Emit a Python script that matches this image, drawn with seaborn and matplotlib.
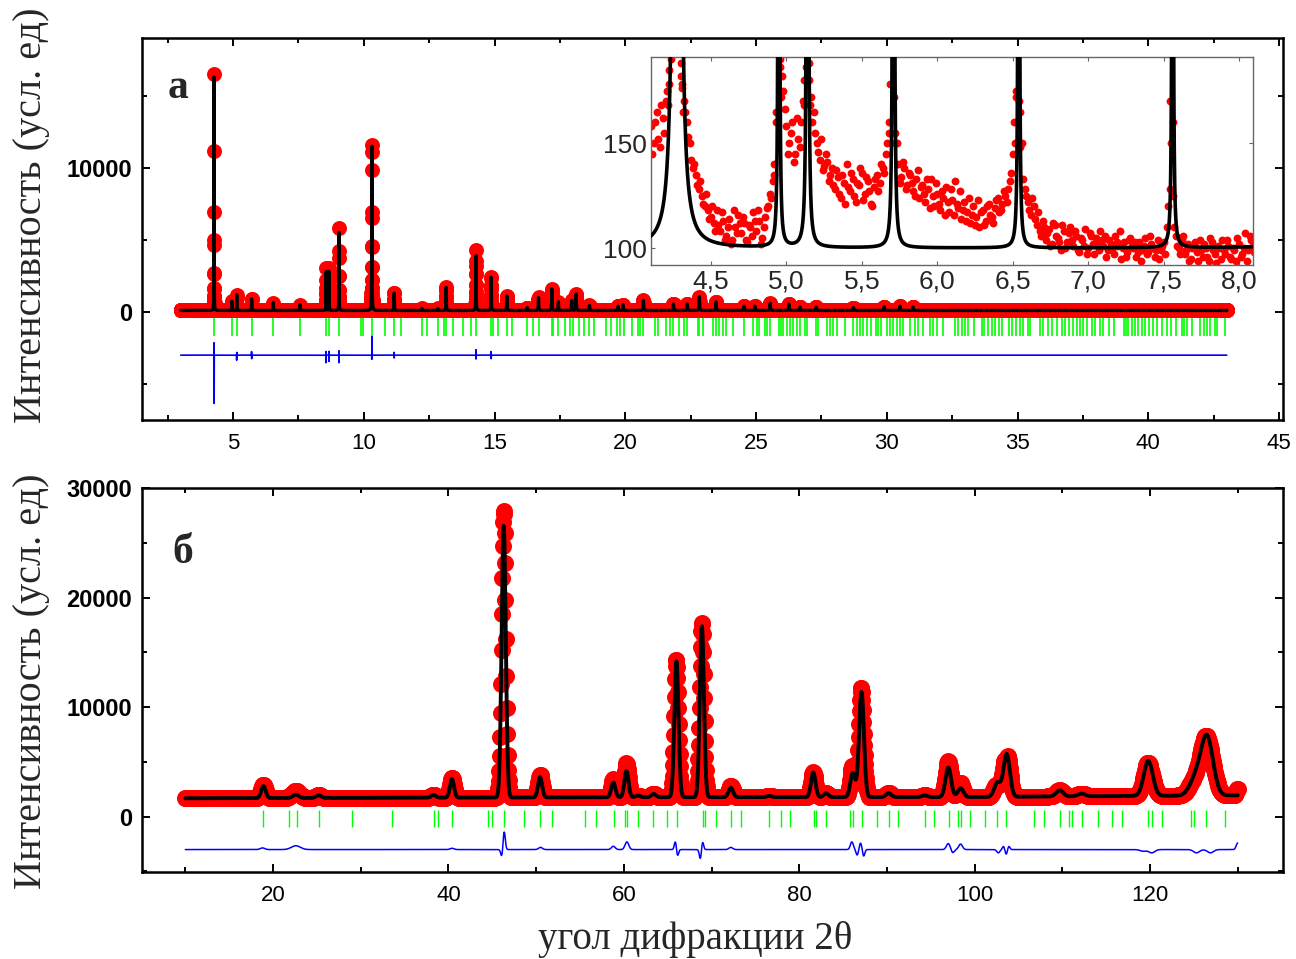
import numpy as np
import pandas as pd
import matplotlib
matplotlib.use("Agg")
import matplotlib.pyplot as plt
from matplotlib.ticker import MultipleLocator, FuncFormatter
import seaborn as sns

# ================= Panel а (top) : peak list =================
top_peak_pos = [4.275, 4.95, 5.14, 5.71, 6.54, 7.56, 8.56, 8.67, 9.05, 10.31,
                11.16, 12.22, 12.83, 13.15, 14.29, 14.87, 15.47, 16.25, 16.68, 17.19,
                17.44, 17.95, 18.12, 18.63, 19.72, 19.91, 20.69, 21.84, 22.37, 22.83,
                23.47, 24.54, 24.95, 25.54, 26.25, 26.68, 27.30, 28.72, 29.90, 30.50, 31.00]
top_peak_height = [16200, 650, 1100, 800, 550, 400, 2700, 2700, 5400, 11400,
                   1200, 150, 150, 1600, 3800, 2300, 1000, 200, 900, 1500,
                   600, 700, 1150, 350, 300, 400, 700, 450, 450, 950,
                   600, 300, 300, 500, 450, 250, 250, 200, 250, 300, 250]
top_peak_fwhm = [0.0065, 0.0065, 0.0065, 0.007, 0.007, 0.008, 0.009, 0.009, 0.009, 0.012,
                 0.012, 0.012, 0.012, 0.013, 0.014, 0.014, 0.015, 0.015, 0.016, 0.016,
                 0.016, 0.017, 0.017, 0.017, 0.018, 0.018, 0.019, 0.019, 0.020, 0.020,
                 0.020, 0.021, 0.021, 0.022, 0.022, 0.022, 0.023, 0.024, 0.025, 0.025, 0.025]
top_background = 100.0
top_range = (3.0, 43.0)
top_step = 0.0025

top_diff_pos = [4.2725, 4.275, 4.2775, 5.1375, 5.1425, 5.7075, 5.7125, 8.5575, 8.56, 8.6675,
                8.67, 9.0475, 9.05, 10.305, 10.3125, 11.1575, 11.1625, 14.2875, 14.29, 14.8675,
                14.8725]
top_diff_amp = [900, 420, -3400, -350, 200, 250, -250, -550, 300, -450,
                300, -550, 350, -300, 1300, 200, -200, -300, 400, 250,
                -250]
top_diff_fwhm = 0.0015
top_diff_offset = -3000

top_reflections = [
    4.27, 4.95, 5.14, 5.71, 6.54, 7.56, 8.56, 8.67, 9.05, 9.88, 9.98, 10.30, 10.81, 11.16,
    11.42, 12.22, 12.43, 12.83, 13.08, 13.15, 13.40, 13.78, 14.10, 14.29, 14.87, 14.95,
    15.15, 15.47, 15.66, 16.25, 16.48, 16.68, 17.19, 17.25, 17.44, 17.70,
    17.89, 18.01, 18.24, 18.42, 18.63, 18.80, 19.26, 19.44, 19.70, 19.80, 19.95, 20.25,
    20.50, 20.56, 20.69, 21.14, 21.26, 21.56, 21.71, 21.84, 22.07, 22.25, 22.37, 22.76,
    22.83, 22.96, 23.37, 23.47, 23.60, 23.75, 23.85, 24.13, 24.54, 24.90, 25.03, 25.13,
    25.34, 25.41, 25.54, 25.89, 25.94, 26.04, 26.20, 26.30, 26.43, 26.58, 26.68, 26.87,
    26.96, 27.29, 27.38, 27.70, 27.83, 27.96, 28.09, 28.40, 28.72, 28.85, 28.98, 29.10,
    29.23, 29.39, 29.59, 29.68, 29.77, 30.00, 30.12, 30.23, 30.38, 30.51, 30.63, 30.89,
    31.08, 31.21, 31.40, 31.65, 31.78, 31.91, 32.16, 32.61, 32.74, 32.86, 32.99, 33.12,
    33.34, 33.63, 33.72, 33.85, 34.01, 34.14, 34.27, 34.39, 34.69, 34.78, 34.94, 35.10,
    35.22, 35.38, 35.48, 35.86, 35.99, 36.18, 36.31, 36.50, 36.69, 36.82, 36.98, 37.13,
    37.26, 37.39, 37.49, 37.64, 37.84, 37.96, 38.15, 38.28, 38.51, 38.69, 39.05, 39.15,
    39.24, 39.37, 39.49, 39.62, 39.75, 39.88, 40.04, 40.17, 40.32, 40.51, 40.70, 40.86,
    41.06, 41.28, 41.37, 41.47, 41.66, 41.98, 42.11, 42.23, 42.36, 42.55, 42.62, 42.93]

# inset: observed points read from the picture
# set A: every 0.02 deg from 4.10 ; set B: every 0.02 deg from 4.11
inset_step = 0.02
inset_start_a = 4.10
inset_obs_a = [
    158, 150, 165, 148, 162, 170, 185, 250, 300, 300,
    182, 170, 160, 150, 138, 135, 128, 125, 120, 118,
    115, 112, 118, 108, 113, 106, 114, 104, 110, 116,
    107, 112, 103, 110, 117, 108, 113, 105, 115, 120,
    124, 135, 200, 190, 175, 158, 150, 160, 145, 152,
    160, 180, 220, 172, 165, 150, 142, 137, 145, 132,
    138, 128, 134, 124, 131, 140, 127, 133, 122, 130,
    136, 126, 132, 121, 129, 135, 131, 138, 145, 160,
    230, 155, 140, 134, 138, 130, 135, 127, 133, 124,
    130, 122, 128, 133, 120, 126, 118, 124, 129, 117,
    123, 132, 119, 114, 122, 117, 112, 120, 115, 110,
    118, 113, 121, 115, 119, 124, 118, 127, 122, 132,
    145, 175, 220, 150, 128, 122, 116, 120, 111, 108,
    113, 104, 109, 102, 111, 105, 99, 108, 103, 110,
    101, 106, 98, 104, 109, 100, 106, 97, 103, 108,
    101, 96, 104, 99, 106, 101, 95, 103, 98, 105,
    100, 96, 103, 99, 105, 98, 102, 96, 104, 99,
    103, 110, 170, 125, 106, 100, 104, 97, 102, 95,
    101, 98, 104, 96, 100, 94, 103, 97, 101, 95,
    99, 104, 96, 100, 94, 102, 97, 107, 99, 104,
    98]
inset_start_b = 4.11
inset_obs_b = [
    145, 160, 152, 168, 155, 175, 195, 300, 300, 195,
    176, 165, 153, 142, 140, 130, 132, 121, 126, 114,
    120, 108, 111, 117, 104, 110, 102, 118, 107, 112,
    115, 104, 111, 106, 113, 118, 102, 110, 119, 126,
    132, 160, 300, 182, 166, 145, 155, 141, 162, 148,
    170, 300, 188, 160, 155, 146, 152, 139, 141, 135,
    130, 137, 126, 135, 121, 129, 136, 125, 131, 138,
    123, 134, 127, 120, 133, 127, 140, 136, 150, 200,
    300, 150, 131, 141, 128, 136, 131, 125, 137, 129,
    126, 133, 119, 125, 131, 121, 127, 116, 122, 128,
    116, 121, 127, 118, 113, 124, 116, 111, 123, 117,
    111, 120, 116, 112, 123, 117, 121, 125, 128, 136,
    160, 300, 165, 133, 125, 118, 124, 114, 117, 106,
    110, 107, 101, 112, 106, 103, 111, 100, 107, 104,
    108, 99, 105, 101, 97, 107, 102, 105, 99, 104,
    106, 99, 102, 97, 103, 108, 100, 96, 104, 101,
    103, 98, 94, 101, 97, 106, 100, 99, 95, 101,
    97, 120, 300, 110, 101, 97, 106, 99, 94, 100,
    103, 94, 99, 102, 96, 105, 99, 93, 100, 104,
    97, 101, 95, 99, 105, 96, 100, 94, 106, 101]
inset_flank_x = [4.215, 4.225, 4.235, 4.300, 4.305, 4.315, 4.920, 4.930, 4.958, 4.965,
                 5.120, 5.128, 5.150, 5.158, 5.680, 5.690, 5.712, 5.720, 6.515, 6.522,
                 6.540, 6.548, 7.540, 7.548, 7.565]
inset_flank_y = [168, 178, 190, 188, 178, 165, 140, 165, 186, 172,
                 168, 186, 180, 168, 155, 178, 172, 150, 150, 172,
                 170, 148, 128, 150, 160]

# ================= Panel б (bottom) =================
bot_peak_pos = [18.9, 22.6, 25.2, 38.3, 40.4, 46.3, 50.45, 58.8, 60.3, 61.6,
                63.4, 66.0, 68.9, 72.2, 76.6, 81.6, 83.05, 86.1, 87.1, 90.2,
                94.3, 97.0, 98.4, 102.6, 103.65, 109.7, 112.2, 119.8, 125.2, 126.5]
bot_peak_height = [1100, 300, 250, 250, 1700, 24800, 1850, 1350, 2400, 150,
                   300, 12400, 15600, 850, 120, 2250, 350, 2200, 9600, 350,
                   150, 2700, 800, 1300, 3900, 550, 250, 3200, 1500, 5300]
bot_peak_fwhm = [0.6, 0.8, 0.7, 0.6, 0.55, 0.55, 0.55, 0.55, 0.55, 0.6,
                 0.6, 0.55, 0.55, 0.6, 0.6, 0.6, 0.6, 0.65, 0.65, 0.7,
                 0.7, 0.75, 0.75, 0.85, 0.85, 0.95, 1.0, 1.2, 1.6, 1.6]
bot_bg_x = [10, 60, 100, 130]
bot_bg_y = [1680, 1780, 1800, 1950]
bot_range = (10.0, 130.0)
bot_step = 0.05

bot_diff_pos = [18.8, 22.6, 40.4, 46.1, 46.35, 50.5, 58.8, 60.35, 65.9, 66.1,
                68.75, 68.95, 72.2, 86.0, 86.6, 87.0, 87.35, 97.0, 97.5, 98.4,
                102.7, 103.3, 103.6, 103.9, 119.2, 120.2, 125.3, 126.9, 130.0]
bot_diff_amp = [150, 350, 120, -700, 1700, 200, 300, 700, 850, -700,
                -1000, 850, 200, 700, -500, 600, -600, 550, -300, 500,
                -300, 300, -450, 300, -150, -300, -300, -300, 600]
bot_diff_fwhm = [0.6, 1.2, 0.5, 0.3, 0.3, 0.5, 0.5, 0.5, 0.3, 0.3,
                 0.3, 0.3, 0.5, 0.4, 0.3, 0.3, 0.3, 0.5, 0.4, 0.5,
                 0.4, 0.3, 0.3, 0.3, 0.8, 0.8, 0.8, 0.8, 0.4]
bot_diff_offset = -3000

bot_reflections = [
    18.88, 21.81, 22.76, 25.24, 28.97, 33.62, 38.30, 38.76, 40.40, 44.48, 44.93, 46.38,
    48.67, 50.46, 51.79, 55.60, 56.86, 58.84, 60.10, 60.40, 61.62, 63.35, 64.88, 66.02,
    68.99, 69.26, 70.48, 72.27, 73.33, 76.57, 77.90, 78.93, 81.64, 81.94, 83.05, 85.79,
    86.10, 87.16, 88.88, 90.21, 91.24, 94.29, 95.35, 97.07, 98.10, 98.40, 99.50, 101.22,
    102.59, 103.62, 106.78, 107.89, 109.71, 110.78, 111.05, 112.27, 114.10, 115.62,
    116.76, 119.81, 120.19, 121.41, 124.66, 125.04, 126.37, 128.51]


# ================= profile model =================
def lorentz(x, pos, height, fwhm):
    x = np.asarray(x, float)[:, None]
    p = np.asarray(pos, float)[None, :]
    h = np.asarray(height, float)[None, :]
    hw = np.broadcast_to(np.asarray(fwhm, float), p.shape) / 2.0
    return (h / (1.0 + ((x - p) / hw) ** 2)).sum(axis=1)


def gauss(x, pos, height, fwhm):
    x = np.asarray(x, float)[:, None]
    p = np.asarray(pos, float)[None, :]
    h = np.asarray(height, float)[None, :]
    w = np.broadcast_to(np.asarray(fwhm, float), p.shape)
    return (h * np.exp(-4 * np.log(2) * ((x - p) / w) ** 2)).sum(axis=1)


n_top = int(round((top_range[1] - top_range[0]) / top_step)) + 1
x_top = np.round(top_range[0] + top_step * np.arange(n_top), 4)
calc_top = top_background + lorentz(x_top, top_peak_pos, top_peak_height, top_peak_fwhm)
diff_top = lorentz(x_top, top_diff_pos, top_diff_amp, top_diff_fwhm)
obs_top = calc_top + diff_top
df_top = pd.DataFrame({"x": x_top, "obs": obs_top, "calc": calc_top,
                       "diff": diff_top + top_diff_offset})

x_in = np.linspace(4.05, 8.15, 8201)
df_in_calc = pd.DataFrame({"x": x_in, "calc": top_background +
                           lorentz(x_in, top_peak_pos, top_peak_height, top_peak_fwhm)})
inset_x_a = np.round(inset_start_a + inset_step * np.arange(len(inset_obs_a)), 3)
inset_x_b = np.round(inset_start_b + inset_step * np.arange(len(inset_obs_b)), 3)
df_in_obs = pd.DataFrame({"x": np.concatenate([inset_x_a, inset_x_b, inset_flank_x]),
                          "y": np.concatenate([inset_obs_a, inset_obs_b, inset_flank_y])})

n_bot = int(round((bot_range[1] - bot_range[0]) / bot_step)) + 1
x_bot = np.round(bot_range[0] + bot_step * np.arange(n_bot), 3)
calc_bot = np.interp(x_bot, bot_bg_x, bot_bg_y) + gauss(x_bot, bot_peak_pos, bot_peak_height, bot_peak_fwhm)
diff_bot = gauss(x_bot, bot_diff_pos, bot_diff_amp, bot_diff_fwhm)
obs_bot = calc_bot + diff_bot
df_bot = pd.DataFrame({"x": x_bot, "obs": obs_bot, "calc": calc_bot,
                       "diff": diff_bot + bot_diff_offset})

# ================= drawing =================
sns.set_theme(style="ticks")
plt.rcParams["font.family"] = ["Liberation Sans", "DejaVu Sans"]
plt.rcParams["axes.unicode_minus"] = False

RED, GREEN, BLUE = "#ff0000", "#00ff00", "#0000ff"
SERIF = ["Liberation Serif", "DejaVu Serif"]

fig = plt.figure(figsize=(12.96, 9.59), dpi=100)
ax1 = fig.add_axes([0.1096, 0.562, 0.8804, 0.3984])
ax2 = fig.add_axes([0.1096, 0.0907, 0.8804, 0.4004])
axin = fig.add_axes([0.502, 0.7237, 0.4645, 0.2169])


def style_main(ax):
    for s in ax.spines.values():
        s.set_linewidth(1.8)
        s.set_color("black")
    ax.tick_params(which="both", direction="in", top=True, right=True, width=1.4, colors="black")
    ax.tick_params(which="major", length=6)
    ax.tick_params(which="minor", length=3.5)
    ax.tick_params(axis="x", which="major", pad=9, labelsize=16)
    ax.tick_params(axis="y", which="major", pad=7, labelsize=17)
    for lab in ax.get_yticklabels():
        lab.set_fontweight("bold")
    ax.set_xlabel("")
    ax.set_ylabel("")
    ax.grid(False)


# ---- top panel
sns.scatterplot(data=df_top, x="x", y="obs", ax=ax1, color=RED, s=116, linewidth=0,
                legend=False, zorder=2)
sns.lineplot(data=df_top, x="x", y="calc", ax=ax1, color="black", lw=2.4,
             estimator=None, sort=False, zorder=3)
sns.lineplot(data=df_top, x="x", y="diff", ax=ax1, color=BLUE, lw=1.2,
             estimator=None, sort=False, zorder=3)
ax1.vlines(top_reflections, -1650, -450, color=GREEN, lw=1.2, zorder=2)
ax1.set_xlim(1.52, 45.15)
ax1.set_ylim(-7500, 19000)
ax1.xaxis.set_major_locator(MultipleLocator(5))
ax1.xaxis.set_minor_locator(MultipleLocator(2.5))
ax1.yaxis.set_major_locator(MultipleLocator(10000))
ax1.yaxis.set_minor_locator(MultipleLocator(5000))
ax1.yaxis.set_major_formatter(FuncFormatter(lambda v, p: f"{v:.0f}"))
style_main(ax1)
ax1.text(0.032, 0.87, "а", transform=ax1.transAxes, family=SERIF, fontsize=30,
         fontweight="bold", ha="center", va="center")

# ---- inset
axin.set_facecolor("white")
sns.scatterplot(data=df_in_obs, x="x", y="y", ax=axin, color=RED, s=32, linewidth=0,
                legend=False, zorder=2)
sns.lineplot(data=df_in_calc, x="x", y="calc", ax=axin, color="black", lw=2.6,
             estimator=None, sort=False, zorder=3)
axin.set_xlim(4.10, 8.09)
axin.set_ylim(92, 191)
axin.xaxis.set_major_locator(MultipleLocator(0.5))
axin.yaxis.set_major_locator(MultipleLocator(50))
axin.xaxis.set_major_formatter(FuncFormatter(lambda v, p: f"{v:.1f}".replace(".", ",")))
axin.yaxis.set_major_formatter(FuncFormatter(lambda v, p: f"{v:.0f}"))
for s in axin.spines.values():
    s.set_linewidth(1.0)
    s.set_color("#666666")
axin.tick_params(which="both", direction="in", top=True, right=True, length=3, width=0.8,
                 color="#666666", labelsize=19, pad=3)
axin.set_xlabel("")
axin.set_ylabel("")
axin.grid(False)

# ---- bottom panel
sns.scatterplot(data=df_bot, x="x", y="obs", ax=ax2, color=RED, s=150, linewidth=0,
                legend=False, zorder=2)
sns.lineplot(data=df_bot, x="x", y="calc", ax=ax2, color="black", lw=2.8,
             estimator=None, sort=False, zorder=3)
sns.lineplot(data=df_bot, x="x", y="diff", ax=ax2, color=BLUE, lw=1.1,
             estimator=None, sort=False, zorder=3)
ax2.vlines(bot_reflections, -900, 600, color=GREEN, lw=1.0, zorder=2)
ax2.set_xlim(5.06, 135.17)
ax2.set_ylim(-5050, 30000)
ax2.xaxis.set_major_locator(MultipleLocator(20))
ax2.xaxis.set_minor_locator(MultipleLocator(10))
ax2.yaxis.set_major_locator(MultipleLocator(10000))
ax2.yaxis.set_minor_locator(MultipleLocator(5000))
ax2.yaxis.set_major_formatter(FuncFormatter(lambda v, p: f"{v:.0f}"))
style_main(ax2)
ax2.text(0.036, 0.83, "б", transform=ax2.transAxes, family=SERIF, fontsize=30,
         fontweight="bold", ha="center", va="center")

# ---- labels
ylab = "Интенсивность (усл. ед)"
fig.text(32 / 1296, 1 - 215 / 959, ylab, rotation=90, ha="center", va="center",
         family=SERIF, fontsize=29)
fig.text(32 / 1296, 1 - 681 / 959, ylab, rotation=90, ha="center", va="center",
         family=SERIF, fontsize=29)
fig.text(695 / 1296, 1 - 940 / 959, "угол дифракции 2θ", ha="center", va="center",
         family=SERIF, fontsize=28)

fig.savefig("out.png", dpi=100)
